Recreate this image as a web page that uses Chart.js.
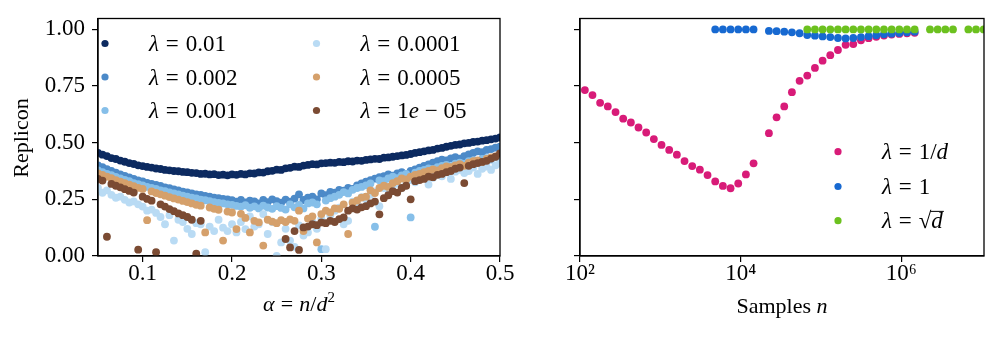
<!DOCTYPE html>
<html>
<head>
<meta charset="utf-8">
<script src="https://cdn.jsdelivr.net/npm/chart.js@4.4.1/dist/chart.umd.min.js"></script>
<style>
  html, body { margin: 0; padding: 0; background: #fff; }
  #wrap { position: relative; width: 997px; height: 338px; overflow: hidden; }
  canvas { position: absolute; top: 0; }
  #left { left: 0; }
  #right { left: 520px; }
</style>
</head>
<body>
<div id="wrap">
  <canvas id="left" width="520" height="338"></canvas>
  <canvas id="right" width="477" height="338"></canvas>
</div>
<script>
// ---- left panel: replicon vs alpha = n/d^2 ----
const alpha = [
  0.050, 0.055, 0.060, 0.065, 0.070, 0.075, 0.080, 0.085, 0.090, 0.095,
  0.100, 0.105, 0.110, 0.115, 0.120, 0.125, 0.130, 0.135, 0.140, 0.145,
  0.150, 0.155, 0.160, 0.165, 0.170, 0.175, 0.180, 0.185, 0.190, 0.195,
  0.200, 0.205, 0.210, 0.215, 0.220, 0.225, 0.230, 0.235, 0.240, 0.245,
  0.250, 0.255, 0.260, 0.265, 0.270, 0.275, 0.280, 0.285, 0.290, 0.295,
  0.300, 0.305, 0.310, 0.315, 0.320, 0.325, 0.330, 0.335, 0.340, 0.345,
  0.350, 0.355, 0.360, 0.365, 0.370, 0.375, 0.380, 0.385, 0.390, 0.395,
  0.400, 0.405, 0.410, 0.415, 0.420, 0.425, 0.430, 0.435, 0.440, 0.445,
  0.450, 0.455, 0.460, 0.465, 0.470, 0.475, 0.480, 0.485, 0.490, 0.495,
  0.500
];

const lam0_01 = [
  .455,.447,.441,.432,.428,.421,.416,.410,.406,.400,
  .397,.393,.390,.386,.384,.380,.378,.375,.374,.371,
  .370,.367,.366,.362,.363,.360,.361,.357,.359,.356,
  .360,.358,.362,.360,.365,.364,.369,.368,.374,.376,
  .381,.380,.387,.389,.394,.393,.399,.402,.405,.404,
  .409,.410,.412,.411,.415,.414,.418,.417,.421,.420,
  .424,.426,.429,.428,.434,.435,.438,.441,.444,.446,
  .450,.455,.458,.462,.466,.468,.474,.477,.482,.486,
  .490,.492,.497,.499,.503,.505,.509,.511,.515,.518,
  .523
];
const lam0_002 = [
  .400,.392,.383,.376,.368,.360,.353,.347,.340,.334,
  .329,.323,.318,.314,.309,.303,.299,.294,.290,.284,
  .281,.276,.272,.270,.265,.262,.258,.255,.252,.250,
  .246,.240,.248,.236,.244,.241,.232,.247,.238,.250,
  .242,.235,.249,.240,.253,.272,.247,.258,.262,.250,
  .276,.268,.283,.279,.292,.288,.300,.296,.312,.320,
  .328,.335,.341,.348,.352,.360,.355,.364,.370,.362,
  .375,.382,.390,.398,.404,.412,.418,.425,.422,.431,
  .436,.430,.441,.448,.455,.462,.458,.468,.472,.478,
  .482
];
const lam0_001 = [
  .378,.370,.362,.357,.349,.342,.336,.330,.322,.317,
  .311,.305,.300,.296,.290,.286,.281,.276,.272,.266,
  .262,.257,.254,.249,.246,.242,.238,.234,.232,.228,
  .226,.221,.218,.224,.213,.219,.210,.222,.214,.208,
  .220,.212,.205,.228,.215,.225,.210,.232,.236,.228,
  .030,.245,.255,.262,.270,.282,.276,.292,.300,.305,
  .312,.320,.129,.334,.330,.342,.350,.344,.356,.362,
  .170,.368,.375,.380,.386,.384,.392,.398,.402,.396,
  .408,.412,.406,.418,.422,.416,.428,.432,.425,.436,
  .440
];
const lam0_0001 = [
  .300,.279,.290,.270,.257,.262,.248,.236,.241,.228,
  .218,.200,.205,.190,.172,.140,.180,.068,.160,.150,
  .120,.097,.145,.140,.017,.130,.110,.160,.125,.110,
  .140,.104,.150,.119,.175,.130,.140,.185,.097,.150,
  .000,.060,.120,.068,.040,.135,.090,.104,.150,.120,
  .165,.030,.180,.200,.213,.140,.155,.240,.232,.260,
  .250,.270,.285,.220,.300,.290,.310,.320,.300,.328,
  .335,.325,.342,.350,.315,.345,.360,.352,.368,.340,
  .372,.380,.366,.375,.390,.362,.385,.395,.380,.400,
  .410
];
const lam0_0005 = [
  .365,.358,.350,.343,.335,.328,.321,.315,.308,.301,
  .296,.158,.285,.278,.272,.266,.260,.254,.249,.243,
  .238,.232,.226,.222,.104,.214,.208,.204,.068,.196,
  .192,.119,.186,.168,.104,.155,.148,.046,.160,.152,
  .145,.158,.150,.162,.155,.200,.110,.165,.175,.060,
  .185,.200,.192,.210,.208,.228,.097,.235,.245,.258,
  .262,.290,.278,.300,.310,.305,.322,.330,.342,.338,
  .350,.358,.362,.370,.375,.382,.378,.388,.395,.392,
  .400,.405,.398,.412,.418,.422,.415,.428,.435,.440,
  .450
];
const lam1e_05 = [
  .340,.333,.085,.318,.310,.303,.295,.287,.280,.028,
  .262,.252,.244,.017,.228,.218,.207,.198,.188,.180,
  .172,.160,.010,.155,null,null,null,null,null,null,
  null,null,null,null,null,null,null,null,null,null,
  null,null,.075,.038,.110,.027,.126,.130,.140,.136,
  .148,.145,.155,.150,.163,.170,.200,.210,.205,.215,
  .220,.232,.240,.184,.255,.268,.286,.280,.300,.310,
  .250,.330,.335,.340,.350,.348,.358,.362,.370,.375,
  .385,.390,.322,.398,.405,.410,.415,.420,.430,.438,
  .453
];

const leftSeries = [lam0_01, lam0_002, lam0_001, lam0_0001, lam0_0005, lam1e_05];
const leftColors = ['#0c2a60', '#4c8ac8', '#86bfe9', '#b9dbf4', '#d5a06b', '#7b4b33'];
const leftLabels = [
  ['0.01'], ['0.002'], ['0.001'], ['0.0001'], ['0.0005'],
  ['1', {t: 'e', i: true}, 0.25, '\u2212', 0.25, '05']
];
const alphaTicks = [0.1, 0.2, 0.3, 0.4, 0.5];
const repliconTicks = [0, 0.25, 0.5, 0.75, 1];

// ---- right panel: replicon vs samples n ----
const samples = [
  115, 143, 178, 222, 277, 345, 430, 535, 667, 831,
  1035, 1290, 1607, 2002, 2495, 3108, 3873, 4825, 6012, 7490,
  9333, 11628, 14488, 18050, 22491, 28022, 34914, 43501, 54200, 67530,
  84140, 104830, 130620, 162740, 202770, 252640, 314770, 392200, 488650, 608840,
  758580, 945140, 1177600, 1467200, 1828100, 2277700, 2837900, 3535900, 4405500, 5489000,
  6839100, 8521000, 10617000
];
const lamInvD = [
  .732,.710,.676,.660,.635,.606,.589,.567,.545,.516,
  .490,.468,.447,.419,.397,.381,.357,.329,.309,.299,
  .320,.360,.409,null,.542,.612,.660,.723,.773,.796,
  .830,.862,.886,.909,.932,.935,.952,.961,.967,.973,
  .977,.980,.983,.985,null,null,null,null,null,null,
  null,null,null
];
const lamOne = [
  null,null,null,null,null,null,null,null,null,null,
  null,null,null,null,null,null,null,1.0,1.0,1.0,
  1.0,1.0,1.0,null,.993,.992,.990,.987,.983,.975,
  .972,.969,.966,.962,.960,.962,.966,.970,.974,.978,
  .981,.984,.987,.990,null,null,null,null,null,null,
  null,null,null
];
const lamSqrtD = [
  null,null,null,null,null,null,null,null,null,null,
  null,null,null,null,null,null,null,null,null,null,
  null,null,null,null,null,null,null,null,null,1.0,
  1.0,1.0,1.0,1.0,1.0,1.0,1.0,1.0,1.0,1.0,
  1.0,1.0,1.0,1.0,null,1.0,1.0,1.0,1.0,null,
  1.0,1.0,1.0
];
const rightSeries = [lamInvD, lamOne, lamSqrtD];
const rightColors = ['#d81b78', '#1769d1', '#6cc11f'];
const rightLabels = [['1/', {t: 'd', i: true}], ['1'], ['\u221A', {t: 'd', i: true, over: true}]];
const sampleTicks = [1e2, 1e4, 1e6];

// ---- drawing helpers ----
const SERIF = '"Liberation Serif", "Times New Roman", serif';
const DOT = 3.9;
Chart.defaults.font.family = SERIF;
Chart.defaults.color = '#000';

// parts: strings are upright, {t, i, sup, over} styled, numbers are gaps in em
function drawMath(ctx, parts, x, y, size, align) {
  const items = parts.map(p => typeof p === 'number' ? {gap: p} : (typeof p === 'string' ? {t: p} : p));
  const fontOf = it => (it.i ? 'italic ' : '') + Math.round(size * (it.sup ? 0.7 : 1)) + 'px ' + SERIF;
  let w = 0;
  items.forEach(it => {
    if (it.gap !== undefined) it.w = it.gap * size;
    else { ctx.font = fontOf(it); it.w = ctx.measureText(it.t).width; }
    w += it.w;
  });
  let cx = align === 'center' ? x - w / 2 : x;
  ctx.save();
  ctx.fillStyle = '#000';
  ctx.strokeStyle = '#000';
  ctx.textBaseline = 'middle';
  ctx.textAlign = 'left';
  items.forEach(it => {
    if (it.t) {
      ctx.font = fontOf(it);
      ctx.fillText(it.t, cx, it.sup ? y - size * 0.32 : y);
      if (it.over) {
        ctx.lineWidth = 1;
        ctx.beginPath();
        ctx.moveTo(cx - 1, y - size * 0.47);
        ctx.lineTo(cx + it.w + 1, y - size * 0.47);
        ctx.stroke();
      }
    }
    cx += it.w;
  });
  ctx.restore();
}

function lambdaParts(rest) {
  return [{t: '\u03BB', i: true}, 0.3, '=', 0.3].concat(rest);
}

function decorate(cfg) {
  return {
    id: 'decorate',
    afterDraw(chart) {
      const ctx = chart.ctx;
      const a = chart.chartArea;
      ctx.save();
      ctx.strokeStyle = '#000';
      ctx.lineWidth = 1.3;
      ctx.strokeRect(a.left, a.top, a.right - a.left, a.bottom - a.top);
      ctx.restore();

      cfg.legend.forEach(e => {
        ctx.save();
        ctx.fillStyle = e.color;
        ctx.beginPath();
        ctx.arc(e.x, e.y, 3.6, 0, Math.PI * 2);
        ctx.fill();
        ctx.restore();
        drawMath(ctx, lambdaParts(e.label), e.tx, e.y + 1.5, 23, 'left');
      });

      cfg.titles.forEach(t => {
        if (t.rotate) {
          ctx.save();
          ctx.translate(t.x, t.y);
          ctx.rotate(-Math.PI / 2);
          drawMath(ctx, t.parts, 0, 0, 22, 'center');
          ctx.restore();
        } else {
          drawMath(ctx, t.parts, t.x, t.y, 22, 'center');
        }
      });
    }
  };
}

function axisStyle() {
  return {
    grid: { display: true, drawOnChartArea: false, drawTicks: true, tickLength: 6, color: '#000', lineWidth: 1.2 },
    border: { display: true, color: '#000', width: 1.3 }
  };
}

function yAxis(width, showLabels) {
  return Object.assign(axisStyle(), {
    type: 'linear', min: 0, max: 1.048,
    afterBuildTicks: s => { s.ticks = repliconTicks.map(v => ({value: v})); },
    afterFit: s => { s.width = width; },
    ticks: {
      padding: 7,
      color: showLabels ? '#000' : 'rgba(0,0,0,0)',
      font: { size: 23, lineHeight: 1 },
      callback: v => v.toFixed(2)
    }
  });
}

function toPoints(xs, ys) {
  return xs.map((x, i) => ({x: x, y: ys[i]})).filter(p => p.y !== null);
}

const baseOptions = {
  responsive: false,
  animation: false,
  events: [],
  elements: { point: { radius: DOT, hoverRadius: DOT, borderWidth: 0 } },
  plugins: { legend: { display: false }, tooltip: { enabled: false } }
};

// left chart
const leftLegend = leftSeries.map((s, k) => ({
  color: leftColors[k],
  label: leftLabels[k],
  x: k < 3 ? 105 : 316.5,
  tx: k < 3 ? 149 : 360.5,
  y: [43.5, 77, 110.5][k % 3]
}));

new Chart(document.getElementById('left'), {
  type: 'scatter',
  data: {
    datasets: leftSeries.map((vals, k) => ({
      data: toPoints(alpha, vals),
      backgroundColor: leftColors[k],
      pointBackgroundColor: leftColors[k],
      borderWidth: 0,
      pointRadius: DOT,
      order: -k
    }))
  },
  options: Object.assign({}, baseOptions, {
    layout: { padding: { top: 14, right: 20, left: 0, bottom: 0 } },
    scales: {
      x: Object.assign(axisStyle(), {
        type: 'linear', min: 0.05, max: 0.5,
        afterBuildTicks: s => { s.ticks = alphaTicks.map(v => ({value: v})); },
        afterFit: s => { s.height = 82; },
        ticks: { padding: 0, font: { size: 23, lineHeight: 1 }, maxRotation: 0, callback: v => String(v) }
      }),
      y: yAxis(98, true)
    }
  }),
  plugins: [decorate({
    legend: leftLegend,
    titles: [
      { parts: ['Replicon'], x: 22, y: 138, rotate: true },
      { parts: [{t: '\u03B1', i: true}, 0.28, '=', 0.28, {t: 'n', i: true}, '/', {t: 'd', i: true}, {t: '2', sup: true}], x: 299, y: 305 }
    ]
  })]
});

// right chart
const supDigits = {2: '\u00B2', 4: '\u2074', 6: '\u2076'};
const rightLegend = rightSeries.map((s, k) => ({
  color: rightColors[k],
  label: rightLabels[k],
  x: 318,
  tx: 362,
  y: [151.7, 186.5, 220.7][k]
}));

new Chart(document.getElementById('right'), {
  type: 'scatter',
  data: {
    datasets: rightSeries.map((vals, k) => ({
      data: toPoints(samples, vals),
      backgroundColor: rightColors[k],
      pointBackgroundColor: rightColors[k],
      borderWidth: 0,
      pointRadius: DOT,
      order: -k
    }))
  },
  options: Object.assign({}, baseOptions, {
    layout: { padding: { top: 14, right: 13, left: 0, bottom: 0 } },
    scales: {
      x: Object.assign(axisStyle(), {
        type: 'logarithmic', min: 100, max: 10715000,
        afterBuildTicks: s => { s.ticks = sampleTicks.map(v => ({value: v})); },
        afterFit: s => { s.height = 82; },
        ticks: {
          padding: 0, font: { size: 23, lineHeight: 1 }, maxRotation: 0,
          callback: v => '10' + supDigits[Math.round(Math.log10(v))]
        }
      }),
      y: yAxis(60, false)
    }
  }),
  plugins: [decorate({
    legend: rightLegend,
    titles: [
      { parts: ['Samples', 0.25, {t: 'n', i: true}], x: 262, y: 307 }
    ]
  })]
});
</script>
</body>
</html>
